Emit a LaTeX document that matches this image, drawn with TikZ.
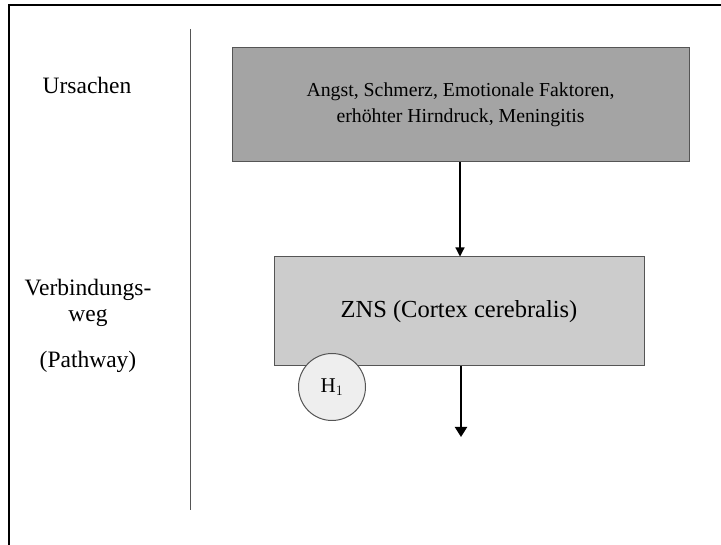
\documentclass[tikz,border=0pt]{standalone}
\usepackage{fontspec}
\setmainfont{Liberation Serif}
\usetikzlibrary{arrows.meta}
\definecolor{causegray}{HTML}{A4A4A4}
\definecolor{cnsgray}{HTML}{CCCCCC}
\definecolor{hypgray}{HTML}{EEEEEE}
\definecolor{rimgray}{HTML}{555555}
\begin{document}
\begin{tikzpicture}[x=1pt,y=-1pt,
  lbl/.style={inner sep=0pt,font=\fontsize{23.5}{27}\selectfont},
  boxnode/.style={draw=rimgray,line width=1pt,inner sep=0pt,align=center},
  flow/.style={-{Triangle[length=9pt,width=9pt]},line width=1.2pt}]
\useasboundingbox (0,0) rectangle (721,545);
\draw[line width=2.5pt](9,545)--(9,5)--(721,5);
\draw[rimgray, line width=1pt](190,29)--(190,510);
\node[lbl] (ursachen) at (87,85) {Ursachen};
\node[lbl] (verb) at (88,290) {Verbindungs-};
\node[lbl] (weg) at (88,318) {weg};
\node[lbl] (pathway) at (88,362) {(Pathway)};
\node[boxnode, fill=causegray, minimum width=457pt, minimum height=114pt,
  font=\fontsize{19.8}{26}\selectfont] (causes) at (460.5,105)
  {Angst, Schmerz, Emotionale Faktoren,\\erhöhter Hirndruck, Meningitis};
\node[boxnode, fill=cnsgray, minimum width=370pt, minimum height=109pt,
  font=\fontsize{24.5}{28}\selectfont] (zns) at (459,311.5) {ZNS (Cortex cerebralis)};
\node[circle, draw=rimgray, line width=1pt, fill=hypgray, minimum size=67pt, inner sep=0pt,
  font=\fontsize{21}{24}\selectfont] (h1) at (332,387) {H$_1$};
\coordinate (out) at (461,437);
\draw[flow] (causes.south -| 460,0) -- (zns.north -| 460,0);
\draw[flow, line width=2pt, -{Triangle[length=10pt,width=12pt]}] (zns.south -| out) -- (out);
\end{tikzpicture}
\end{document}
